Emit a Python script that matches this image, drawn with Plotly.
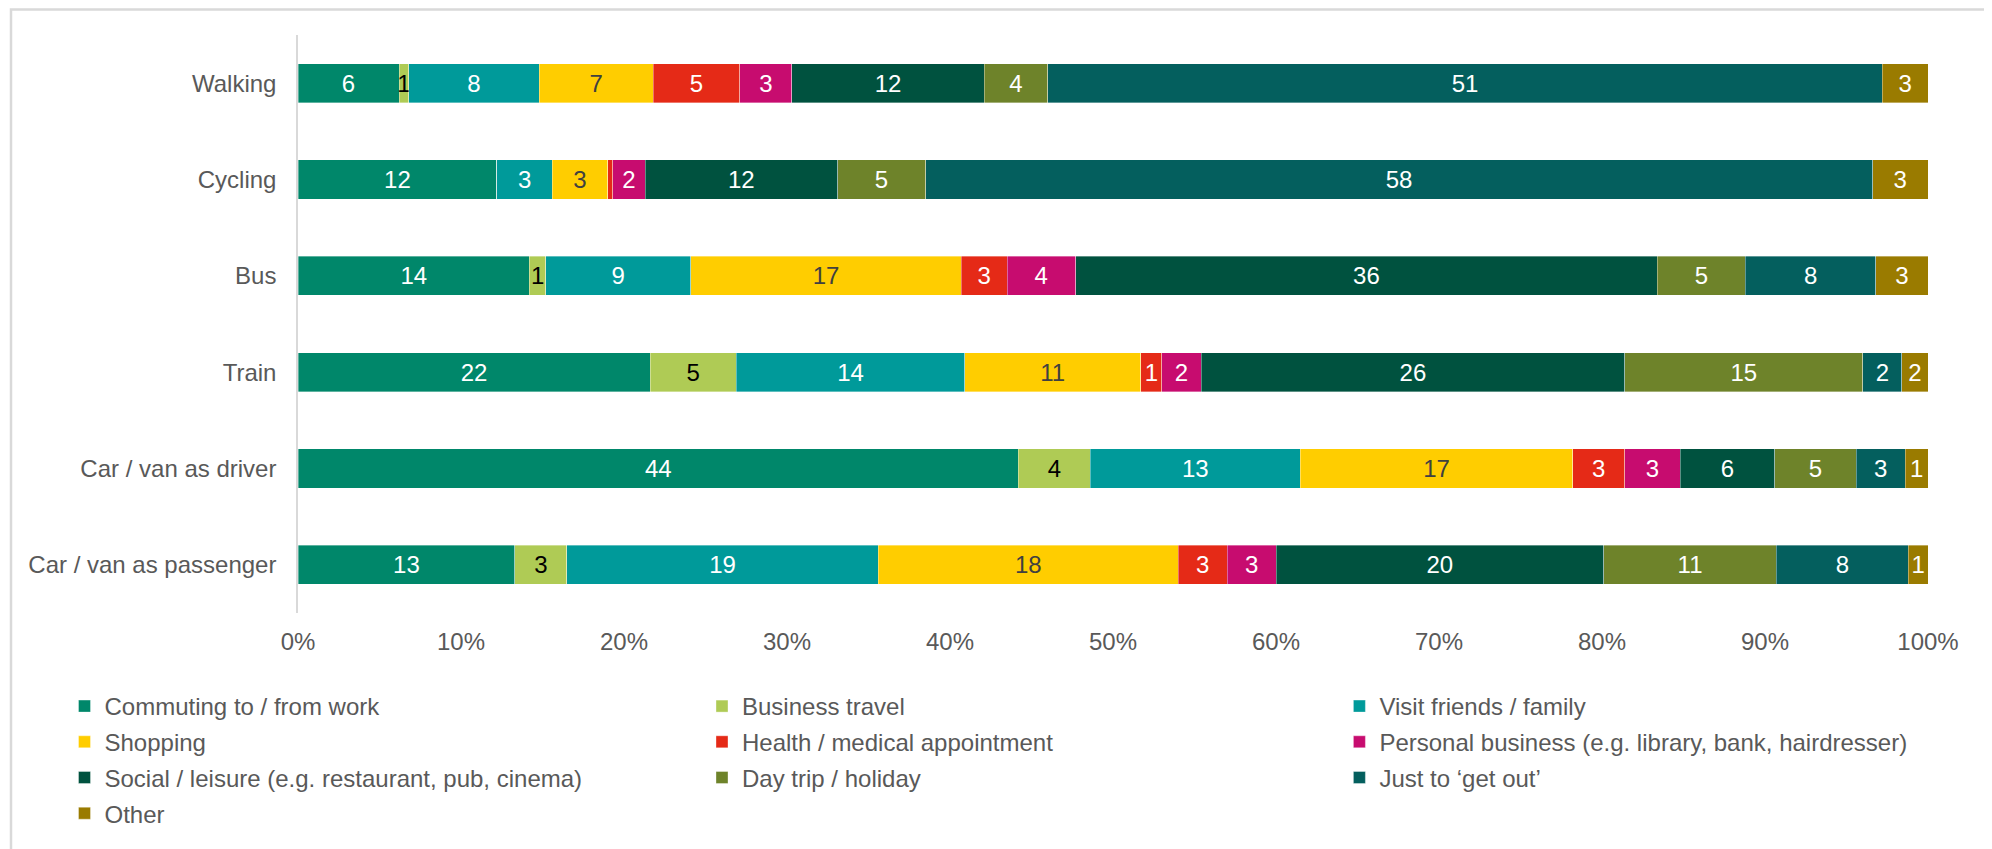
import plotly.graph_objects as go

modes = ["Walking", "Cycling", "Bus", "Train", "Car / van as driver", "Car / van as passenger"]

purposes = [
    "Commuting to / from work",
    "Business travel",
    "Visit friends / family",
    "Shopping",
    "Health / medical appointment",
    "Personal business (e.g. library, bank, hairdresser)",
    "Social / leisure (e.g. restaurant, pub, cinema)",
    "Day trip / holiday",
    "Just to \u2018get out\u2019",
    "Other",
]

# values per purpose, in order of modes (percent of trips)
commuting = [6.2, 12.2, 14.2, 21.6, 44.2, 13.3]
business = [0.6, 0.0, 1.0, 5.3, 4.4, 3.2]
visit = [8.0, 3.4, 8.9, 14.0, 12.9, 19.1]
shopping = [7.0, 3.4, 16.6, 10.8, 16.7, 18.4]
health = [5.3, 0.3, 2.8, 1.3, 3.2, 3.0]
personal = [3.2, 2.0, 4.2, 2.4, 3.4, 3.0]
social = [11.8, 11.8, 35.7, 26.0, 5.8, 20.1]
daytrip = [3.9, 5.4, 5.4, 14.6, 5.0, 10.6]
getout = [51.2, 58.1, 8.0, 2.4, 3.0, 8.1]
other = [2.8, 3.4, 3.2, 1.6, 1.4, 1.2]

series = [commuting, business, visit, shopping, health, personal, social, daytrip, getout, other]

colors = ["#00876A", "#AFCB55", "#009A9A", "#FFCD00", "#E52A17",
          "#C70C6F", "#00523F", "#6E832A", "#045F5E", "#9A7B00"]
label_colors = ["white", "black", "white", "#404040", "white",
                "white", "white", "white", "white", "white"]
legend_ids = ["legend", "legend2", "legend3", "legend", "legend2",
              "legend3", "legend", "legend2", "legend3", "legend"]

FONT = "Liberation Sans, Arial, sans-serif"
GREY = "#595959"

fig = go.Figure()
for name, vals, col, lc, lg in zip(purposes, series, colors, label_colors, legend_ids):
    texts = [f"{v:.0f}" if round(v) >= 1 else "" for v in vals]
    fig.add_trace(go.Bar(
        y=modes, x=vals, name=name, orientation="h",
        marker=dict(color=col, line=dict(color="rgba(255,255,255,0.45)", width=0.8)),
        text=texts, textposition="inside", insidetextanchor="middle",
        textangle=0, textfont=dict(family=FONT, size=24, color=lc),
        legend=lg, legendgroup=name, hoverinfo="name+x",
    ))

# page body adds an 8px offset; figure coordinates below are screen minus 8
OFF = 8
W, H = 1992, 849
ML, MR, MT = 298 - OFF, 64 + OFF, 35 - OFF
MB = H - (613 - OFF)
PW = W - ML - MR
PH = H - MT - MB


def px_x(p):
    return (p - OFF - ML) / PW


def px_y(p):
    return 1 - (p - OFF - MT) / PH


leg_common = dict(
    orientation="v", xanchor="left", yanchor="top",
    font=dict(family=FONT, size=24, color=GREY),
    bgcolor="rgba(0,0,0,0)", tracegroupgap=1.5, traceorder="grouped",
    itemclick=False, itemdoubleclick=False,
)

LEG_TOP = 684

fig.update_layout(
    width=W, height=H,
    margin=dict(l=ML, r=MR, t=MT, b=MB, autoexpand=False),
    paper_bgcolor="white", plot_bgcolor="white",
    barmode="stack", bargap=0.595,
    uniformtext=dict(mode="show", minsize=24),
    font=dict(family=FONT, size=24, color=GREY),
    xaxis=dict(
        range=[0, 100], dtick=10, ticksuffix="%", showgrid=False, zeroline=False,
        showline=False, ticks="outside", ticklen=7, tickcolor="rgba(0,0,0,0)",
        tickfont=dict(family=FONT, size=24, color=GREY), fixedrange=True,
    ),
    yaxis=dict(
        categoryorder="array", categoryarray=modes, autorange="reversed",
        showline=True, linecolor="#D9D9D9", linewidth=1.5, showgrid=False,
        ticks="outside", ticklen=15, tickcolor="rgba(0,0,0,0)",
        tickfont=dict(family=FONT, size=24, color=GREY), fixedrange=True,
    ),
    legend=dict(x=px_x(64.5), y=px_y(LEG_TOP), **leg_common),
    legend2=dict(x=px_x(702), y=px_y(LEG_TOP), **leg_common),
    legend3=dict(x=px_x(1339.4), y=px_y(LEG_TOP), **leg_common),
    shapes=[dict(
        type="rect", xref="paper", yref="paper",
        x0=px_x(11), x1=px_x(1988), y0=px_y(880), y1=px_y(9.5),
        line=dict(color="#D9D9D9", width=2.5), fillcolor="rgba(0,0,0,0)", layer="below",
    )],
)

fig.write_html("out.html")
